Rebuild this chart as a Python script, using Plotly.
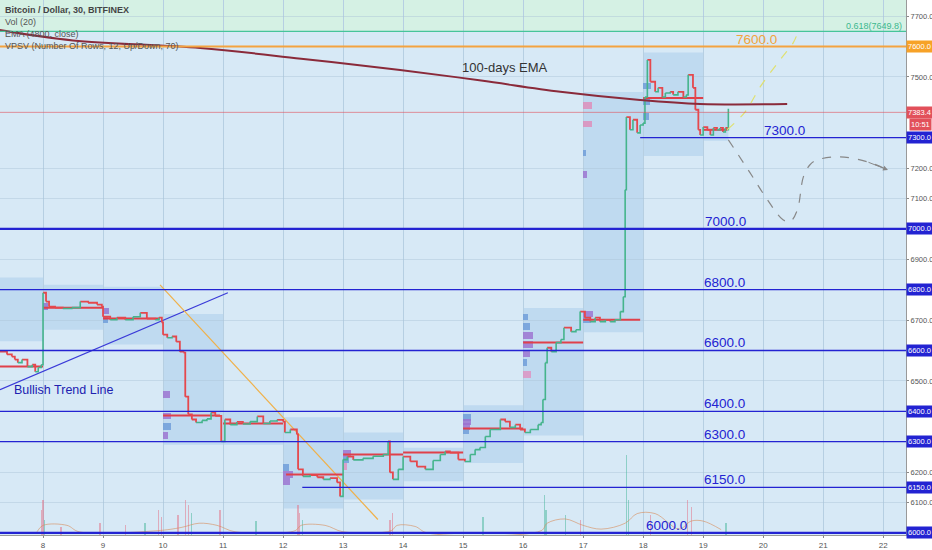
import plotly.graph_objects as go

# ---------------- data ----------------
# price path (day of month, price) (30-min BTC/USD, Bitfinex)
price_day = [7.28, 7.40, 7.48, 7.53, 7.58, 7.65, 7.74, 7.82, 7.87, 7.92, 7.97,
             8.00, 8.05, 8.10, 8.20, 8.33, 8.48, 8.62, 8.75, 8.90, 8.98,
             9.00, 9.12, 9.23, 9.37, 9.50, 9.62, 9.73, 9.87, 9.93, 9.98,
             10.00, 10.07, 10.15, 10.22, 10.28, 10.34, 10.37, 10.42, 10.48, 10.55, 10.65, 10.73, 10.80, 10.87,
             10.97, 11.03, 11.12, 11.23, 11.33, 11.45, 11.57, 11.67, 11.78, 11.90, 12.00,
             12.03, 12.12, 12.23, 12.25, 12.33, 12.45, 12.57, 12.67, 12.78, 12.90, 12.95,
             13.00, 13.07, 13.17, 13.33, 13.50, 13.67, 13.75, 13.78, 13.83, 13.92,
             14.00, 14.12, 14.23, 14.37, 14.50, 14.62, 14.70, 14.78, 14.92, 15.03, 15.12,
             15.20, 15.28, 15.37, 15.45, 15.62, 15.70, 15.78, 15.87, 15.95, 16.03, 16.12, 16.25,
             16.30, 16.33, 16.37, 16.40, 16.47, 16.55, 16.63, 16.68, 16.80, 16.88,
             16.95, 17.03, 17.12, 17.20, 17.28, 17.37, 17.45, 17.53, 17.62, 17.67,
             17.70, 17.72, 17.78, 17.83, 17.90, 17.95, 18.00,
             18.03, 18.07, 18.12, 18.20, 18.25, 18.32, 18.37, 18.45, 18.50, 18.58, 18.67, 18.72,
             18.75, 18.83, 18.87, 18.92, 18.95, 19.00, 19.07, 19.12, 19.17, 19.23, 19.28, 19.33, 19.37, 19.40, 19.42]
price_val = [6596, 6587, 6580, 6570, 6560, 6570, 6547, 6553, 6530, 6544, 6553,
             6790, 6761, 6744, 6741, 6738, 6741, 6761, 6757, 6751, 6744,
             6711, 6701, 6708, 6701, 6711, 6724, 6705, 6701, 6708, 6692,
             6652, 6642, 6646, 6629, 6596, 6593, 6448, 6390, 6373, 6363, 6370, 6375, 6396, 6385,
             6301, 6373, 6356, 6365, 6358, 6366, 6383, 6360, 6368, 6372, 6366,
             6330, 6340, 6324, 6209, 6186, 6190, 6183, 6176, 6180, 6166, 6120,
             6241, 6251, 6240, 6245, 6252, 6258, 6301, 6199, 6176, 6209,
             6251, 6235, 6218, 6209, 6238, 6258, 6268, 6264, 6241, 6235, 6258,
             6274, 6281, 6317, 6340, 6373, 6366, 6347, 6356, 6340, 6330, 6340, 6356,
             6363, 6439, 6560, 6609, 6596, 6626, 6636, 6675, 6662, 6668,
             6728, 6708, 6695, 6708, 6695, 6701, 6695, 6701, 6728, 6777,
             7129, 7368, 7326, 7359, 7316, 7342, 7348,
             7434, 7556, 7484, 7451, 7464, 7434, 7447, 7451, 7441, 7451, 7434, 7441,
             7507, 7464, 7392, 7326, 7309, 7335, 7326, 7309, 7332, 7326, 7332, 7319, 7332, 7326, 7395]

# 100-day EMA
ema_day = [7.28, 8.5, 10.62, 12.3, 13.95, 15.3, 16.62, 17.95, 18.95, 20.4]
ema_val = [7654, 7620, 7595, 7560, 7523, 7488, 7451, 7424, 7411, 7411]

# support / resistance levels
levels = [7300, 7000, 6800, 6600, 6400, 6300, 6150, 6000]
level_start = [17.95, 7.28, 7.28, 7.28, 7.28, 7.28, 12.32, 7.28]
level_width = [1.3, 2.2, 1.3, 1.3, 1.3, 1.3, 1.3, 2.2]
level_text_day = [19.98, 18.99, 18.98, 18.98, 18.98, 18.98, 18.98, 18.02]
resist = 7600
resist_text_day = 19.52
fib_level = 7649.8
last_price = 7383.4

# volume-profile boxes: start day, end day, top price, bottom price
box_d0 = [7.28, 8.0, 9.0, 10.0, 11.0, 12.0, 13.0, 14.0, 15.0, 16.0, 17.0, 18.0, 19.0]
box_d1 = [8.0, 9.0, 10.0, 11.0, 12.0, 13.0, 14.0, 15.0, 16.0, 17.0, 18.0, 19.0, 19.42]
box_top = [6840, 6816, 6810, 6720, 6400, 6380, 6330, 6280, 6420, 6740, 7450, 7580, 7385]
box_bot = [6630, 6668, 6620, 6290, 6290, 6080, 6110, 6170, 6230, 6320, 6660, 7240, 7290]
# POC (red) lines per box
poc_d0 = [7.28, 8.0, 9.0, 10.0, 11.0, 12.05, 13.0, 14.0, 15.0, 16.0, 17.0, 18.0, 19.0]
poc_d1 = [8.0, 9.0, 9.95, 10.95, 12.0, 13.0, 14.0, 15.0, 16.0, 17.0, 17.95, 19.0, 19.4]
poc_val = [6547, 6741, 6705, 6386, 6360, 6192, 6258, 6264, 6343, 6626, 6701, 7431, 7326]

# volume-profile histogram rows: start day, length (days), price, colour
vp_day = [8.0, 9.0, 9.0, 10.0, 10.0, 10.0, 10.0, 12.0, 12.0, 12.0, 13.0, 13.0, 13.0,
          15.0, 15.0, 15.0, 15.0, 16.0, 16.0, 16.0, 16.0, 16.0, 16.0, 16.0,
          17.0, 17.0, 17.0, 17.0, 17.0, 17.0, 18.0, 18.0, 18.0]
vp_len = [0.08, 0.10, 0.08, 0.12, 0.14, 0.13, 0.08, 0.10, 0.16, 0.12, 0.13, 0.10, 0.06,
          0.13, 0.13, 0.11, 0.09, 0.08, 0.12, 0.16, 0.16, 0.11, 0.06, 0.13,
          0.15, 0.15, 0.05, 0.07, 0.16, 0.13, 0.13, 0.11, 0.10]
vp_price = [6745, 6730, 6700, 6455, 6385, 6350, 6320, 6215, 6192, 6170, 6262, 6240, 6218,
            6380, 6365, 6350, 6335, 6710, 6680, 6650, 6620, 6590, 6560, 6520,
            7405, 7345, 7250, 7180, 6720, 6700, 7470, 7420, 7370]
vp_color = ['#8e6fd0', '#8e6fd0', '#6b9ad8', '#9b6fd0', '#9b6fd0', '#6b9ad8', '#9b6fd0', '#6b9ad8', '#9b6fd0', '#9b6fd0', '#9b6fd0', '#6b9ad8', '#e090c0',
            '#6b9ad8', '#9b6fd0', '#9b6fd0', '#6b9ad8', '#6b9ad8', '#6b9ad8', '#9b6fd0', '#9b6fd0', '#9b6fd0', '#6b9ad8', '#e090c0',
            '#e08ab8', '#e08ab8', '#6b9ad8', '#9b6fd0', '#9b6fd0', '#6b9ad8', '#6b9ad8', '#6b9ad8', '#6b9ad8']

# volume spikes (value, and whether the bar is an up-bar)
vol_day = [7.97, 8.0, 8.03, 8.3, 8.95, 9.38, 9.7, 9.93, 9.97, 10.25, 10.38, 10.42, 10.48, 10.95, 11.55,
           12.25, 12.28, 12.32, 13.78, 13.82, 15.33, 16.35, 16.38, 16.7, 16.95, 17.72, 17.75, 18.12,
           18.74, 18.8, 19.38]
vol_val = [47, 65, 28, 15, 22, 19, 22, 47, 34, 37, 65, 56, 41, 47, 26, 56, 41, 28, 28, 41, 34,
           75, 47, 37, 28, 150, 65, 37, 65, 52, 22]
vol_up = [0, 0, 1, 0, 0, 0, 1, 0, 0, 0, 0, 0, 1, 0, 1, 0, 0, 1, 0, 0, 1,
          1, 1, 1, 0, 1, 1, 0, 0, 0, 1]
volma_day = [7.9, 8.0, 8.4, 8.6, 9.9, 10.3, 10.6, 10.9, 11.2, 12.2, 12.3, 12.7, 13.0, 13.8, 13.9, 14.2,
             14.4, 16.3, 16.4, 16.7, 17.0, 17.3, 17.7, 17.9, 18.2, 18.6, 18.8, 19.0, 19.3]
volma_val = [6, 18, 18, 6, 8, 14, 22, 18, 6, 8, 18, 18, 6, 8, 18, 16, 4, 8, 22, 30, 18, 11,
             22, 40, 40, 11, 26, 26, 10]

# projections
proj_down_day = [19.42, 19.78, 20.07, 20.33, 20.45, 20.57, 20.67, 20.78, 20.9, 21.28, 21.73, 22.08]
proj_down_val = [7293, 7185, 7096, 7030, 7024, 7063, 7171, 7211, 7227, 7237, 7221, 7194]
proj_up_day = [19.40, 19.70, 19.95, 20.28, 20.50, 20.58]
proj_up_val = [7326, 7385, 7467, 7556, 7612, 7648]

trend_day = [7.283, 11.08]
trend_val = [6471, 6790]
fall_day = [9.95, 13.58]
fall_val = [6816, 6044]

days = list(range(8, 23))
ytick_vals = [6100, 6200, 6500, 6700, 6900, 7100, 7200, 7500, 7700]

X0, X1 = 7.283, 22.38
Y0, Y1 = 5993, 7753

BLUE = '#2323d2'
TXTFONT = 'Liberation Sans, Arial, sans-serif'

fig = go.Figure()
shapes = []
annots = []

# fib green zone
shapes.append(dict(type='rect', xref='x', yref='y', x0=X0, x1=X1, y0=fib_level, y1=Y1,
                   fillcolor='#d5f1e4', line_width=0, layer='below'))

# volume profile boxes
for a, b, t, bt in zip(box_d0, box_d1, box_top, box_bot):
    shapes.append(dict(type='rect', xref='x', yref='y', x0=a, x1=b, y0=bt, y1=t,
                       fillcolor='rgba(80,150,215,0.17)', line_width=0, layer='below'))

# volume bars
vcol = ['rgba(80,185,160,0.55)' if u else 'rgba(225,120,140,0.55)' for u in vol_up]
fig.add_trace(go.Bar(x=vol_day, y=vol_val, width=0.02, yaxis='y2',
                     marker=dict(color=vcol, line_width=0), showlegend=False))
fig.add_trace(go.Scatter(x=volma_day, y=volma_val, yaxis='y2', mode='lines', line_shape='spline',
                         line=dict(color='rgba(215,140,90,0.6)', width=1), showlegend=False))

# profile histogram rows
fig.add_trace(go.Bar(y=vp_price, x=vp_len, base=vp_day, orientation='h', width=22,
                     marker=dict(color=vp_color, opacity=0.8, line_width=0), showlegend=False))

# horizontal levels
for lv, st, w in zip(levels, level_start, level_width):
    shapes.append(dict(type='line', xref='x', yref='y', x0=st, x1=X1, y0=lv, y1=lv,
                       line=dict(color=BLUE, width=w)))
shapes.append(dict(type='line', xref='x', yref='y', x0=X0, x1=X1, y0=resist, y1=resist,
                   line=dict(color='#f4a340', width=2)))
shapes.append(dict(type='line', xref='x', yref='y', x0=X0, x1=X1, y0=fib_level, y1=fib_level,
                   line=dict(color='#46c49a', width=1.2)))
shapes.append(dict(type='line', xref='x', yref='y', x0=X0, x1=X1, y0=last_price, y1=last_price,
                   line=dict(color='rgba(225,80,90,0.6)', width=1)))

# trend lines
fig.add_trace(go.Scatter(x=trend_day, y=trend_val, mode='lines', line=dict(color='#3a3ad8', width=1.2),
                         showlegend=False))
fig.add_trace(go.Scatter(x=fall_day, y=fall_val, mode='lines', line=dict(color='#f0b048', width=1.2),
                         showlegend=False))

# POC lines
px, py = [], []
for a, b, v in zip(poc_d0, poc_d1, poc_val):
    px += [a, b, None]
    py += [v, v, None]
fig.add_trace(go.Scatter(x=px, y=py, mode='lines', line=dict(color='#e0404a', width=2), showlegend=False))

# price path coloured by direction (step drawing like 30-min candles)
ux, uy, dx, dy = [], [], [], []
for i in range(1, len(price_day)):
    if price_val[i] >= price_val[i - 1]:
        ux += [price_day[i - 1], price_day[i], None]
        uy += [price_val[i - 1], price_val[i], None]
    else:
        dx += [price_day[i - 1], price_day[i], None]
        dy += [price_val[i - 1], price_val[i], None]
fig.add_trace(go.Scatter(x=dx, y=dy, mode='lines', line_shape='hv',
                         line=dict(color='#e5484d', width=1.8), showlegend=False))
fig.add_trace(go.Scatter(x=ux, y=uy, mode='lines', line_shape='hv',
                         line=dict(color='#45b48c', width=1.6), showlegend=False))

# EMA
fig.add_trace(go.Scatter(x=ema_day, y=ema_val, mode='lines', line=dict(color='#8a2a3a', width=2),
                         line_shape='spline', showlegend=False))

# projections
fig.add_trace(go.Scatter(x=proj_up_day, y=proj_up_val, mode='lines', line_shape='spline',
                         line=dict(color='#dfe070', width=1.2, dash='dash'), showlegend=False))
fig.add_trace(go.Scatter(x=proj_down_day, y=proj_down_val, mode='lines', line_shape='spline',
                         line=dict(color='#888888', width=1.2, dash='dash'), showlegend=False))
annots.append(dict(x=proj_down_day[-1], y=proj_down_val[-1], ax=proj_down_day[-2], ay=proj_down_val[-2],
                   xref='x', yref='y', axref='x', ayref='y', text='', showarrow=True,
                   arrowhead=2, arrowsize=1, arrowwidth=1, arrowcolor='#888888'))

# level text labels
for lv, d in zip(levels, level_text_day):
    annots.append(dict(x=d, y=lv, xref='x', yref='y', text=f'{lv:.1f}', showarrow=False,
                       xanchor='left', yanchor='bottom', yshift=-2,
                       font=dict(family=TXTFONT, size=13.5, color=BLUE)))
annots.append(dict(x=resist_text_day, y=resist, xref='x', yref='y', text=f'{resist:.1f}', showarrow=False,
                   xanchor='left', yanchor='bottom', yshift=-2,
                   font=dict(family=TXTFONT, size=13.5, color='#f0a43c')))
annots.append(dict(x=7.48, y=6470, xref='x', yref='y', text='Bullish Trend Line', showarrow=False,
                   xanchor='left', yanchor='middle', font=dict(family=TXTFONT, size=12.5, color='#2020b0')))
annots.append(dict(x=15.7, y=7532, xref='x', yref='y', text='100-days EMA', showarrow=False,
                   xanchor='center', yanchor='middle', font=dict(family=TXTFONT, size=13, color='#333333')))
annots.append(dict(x=1, y=fib_level, xref='paper', yref='y', text=f'0.618({fib_level})', showarrow=False,
                   xanchor='right', yanchor='bottom', xshift=-2, yshift=-2,
                   font=dict(family='Liberation Sans, Arial', size=9, color='#3cb88e')))

# legend-like header
hdr = ['Bitcoin / Dollar, 30, BITFINEX', 'Vol (20)', 'EMA (4800, close)', 'VPSV (Number Of Rows, 12, Up/Down, 70)']
for i, h in enumerate(hdr):
    annots.append(dict(x=0, y=1, xref='paper', yref='paper', text=('<b>' + h + '</b>') if i == 0 else h,
                       showarrow=False, xanchor='left', yanchor='top', xshift=3, yshift=-3 - 12 * i,
                       font=dict(family='Liberation Sans, Arial', size=9, color='#555555' if i else '#444444')))

# right-axis coloured price tags
tags = [(resist, '#f7a228'), (last_price, '#e2505a'), (7300, BLUE), (7000, BLUE),
        (6800, BLUE), (6600, BLUE), (6400, BLUE), (6300, BLUE), (6150, BLUE), (6000, BLUE)]
for v, c in tags:
    annots.append(dict(x=1, y=v, xref='paper', yref='y', text=f'{v:.1f}', showarrow=False,
                       xanchor='left', yanchor='middle', bgcolor=c, borderpad=1, xshift=0,
                       font=dict(family='Liberation Sans, Arial', size=7.5, color='white')))
annots.append(dict(x=1, y=last_price, xref='paper', yref='y', text='10:51', showarrow=False,
                   xanchor='left', yanchor='middle', bgcolor='#e2505a', borderpad=1, xshift=3, yshift=-12,
                   font=dict(family='Liberation Sans, Arial', size=7.5, color='white')))

fig.update_layout(
    width=932, height=550,
    margin=dict(l=0, r=26, t=0, b=15),
    paper_bgcolor='white', plot_bgcolor='#d7e9f6',
    shapes=shapes, annotations=annots, showlegend=False, bargap=0,
    xaxis=dict(range=[X0, X1], tickvals=days, ticktext=[str(d) for d in days],
               showgrid=True, gridcolor='#b6cfe2', gridwidth=1, zeroline=False,
               ticks='outside', ticklen=2, tickcolor='#888', showline=True, linecolor='#999',
               tickfont=dict(family='Liberation Sans, Arial', size=8, color='#555')),
    yaxis=dict(range=[Y0, Y1], side='right', tickvals=ytick_vals,
               ticktext=[f'{v:.1f}' for v in ytick_vals], showgrid=True,
               gridcolor='rgba(170,195,215,0.45)', zeroline=False, ticks='outside', ticklen=2,
               tickcolor='#888', showline=True, linecolor='#999',
               tickfont=dict(family='Liberation Sans, Arial', size=7.5, color='#555')),
    yaxis2=dict(range=[0, 1000], overlaying='y', visible=False, fixedrange=True),
)

fig.write_html('out.html', config={'displayModeBar': False},
               post_script="document.body.style.margin='0';document.body.style.overflow='hidden';")
